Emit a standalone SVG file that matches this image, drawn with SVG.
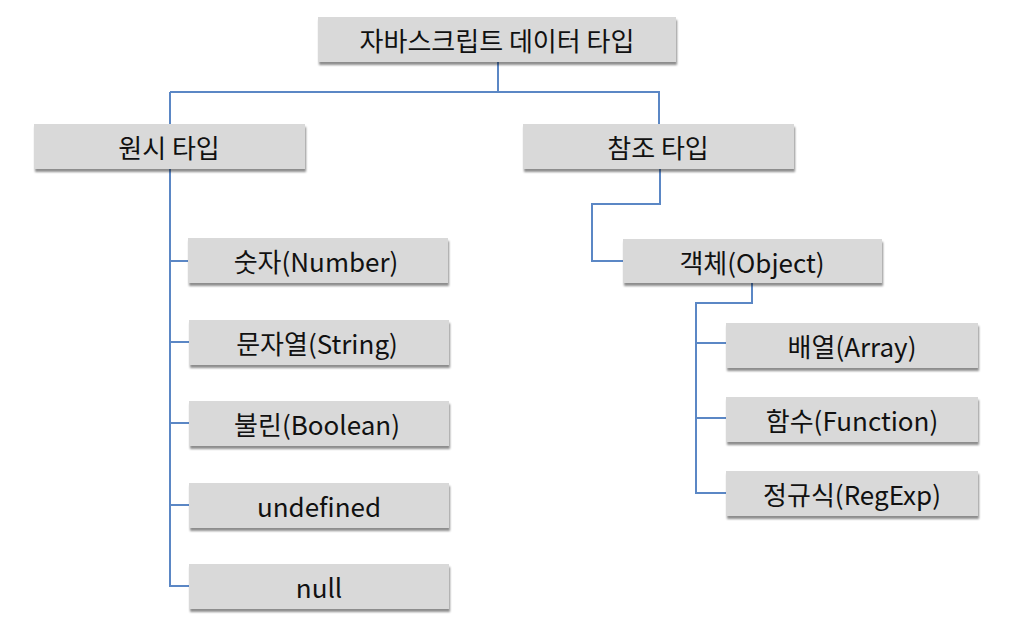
<svg xmlns="http://www.w3.org/2000/svg" width="1013" height="637" viewBox="0 0 1013 637">
<defs>
<filter id="sh" x="-5%" y="-20%" width="110%" height="150%">
<feGaussianBlur in="SourceAlpha" stdDeviation="1.2"/>
<feOffset dx="1" dy="2.5" result="o"/>
<feComponentTransfer><feFuncA type="linear" slope="0.45"/></feComponentTransfer>
<feMerge><feMergeNode/><feMergeNode in="SourceGraphic"/></feMerge>
</filter>
</defs>
<style>
.box{fill:#d9d9d9;filter:url(#sh)}
.t{font-family:"Noto Sans CJK KR","Noto Sans",sans-serif;font-size:26px;fill:#111;text-anchor:middle;dominant-baseline:central}
.c{fill:none;stroke:#5b87c5;stroke-width:2}
</style>
<rect width="1013" height="637" fill="#fff"/>
<g id="connectors">
<path class="c" d="M498 62V92M170 92H659V124"/>
<path class="c" d="M170 92V169M170 169V586H189M170 261H188M170 342H189M170 423H189M170 505H189"/>
<path class="c" d="M660 169V204H592V261H623"/>
<path class="c" d="M752 283V303H696V493H726M696 343H726M696 418H726"/>
</g>
<g id="n-root"><rect class="box" x="318" y="17" width="358" height="45"/><text class="t" x="497" y="39">자바스크립트 데이터 타입</text></g>
<g id="n-prim"><rect class="box" x="34" y="124" width="271" height="45"/><text class="t" x="169" y="146">원시 타입</text></g>
<g id="n-ref"><rect class="box" x="523" y="124" width="271" height="45"/><text class="t" x="658" y="146">참조 타입</text></g>
<g id="n-number"><rect class="box" x="188" y="238" width="260" height="45"/><text class="t" x="316" y="260">숫자(Number)</text></g>
<g id="n-string"><rect class="box" x="189" y="320" width="260" height="45"/><text class="t" x="317" y="342">문자열(String)</text></g>
<g id="n-boolean"><rect class="box" x="189" y="401" width="260" height="45"/><text class="t" x="317" y="423">불린(Boolean)</text></g>
<g id="n-undefined"><rect class="box" x="189" y="483" width="260" height="45"/><text class="t" x="319" y="505">undefined</text></g>
<g id="n-null"><rect class="box" x="189" y="564" width="260" height="45"/><text class="t" x="319" y="586">null</text></g>
<g id="n-object"><rect class="box" x="623" y="239" width="259" height="44"/><text class="t" x="752" y="261">객체(Object)</text></g>
<g id="n-array"><rect class="box" x="726" y="323" width="252" height="45"/><text class="t" x="852" y="345">배열(Array)</text></g>
<g id="n-function"><rect class="box" x="726" y="397" width="252" height="45"/><text class="t" x="852" y="419">함수(Function)</text></g>
<g id="n-regexp"><rect class="box" x="726" y="471" width="252" height="45"/><text class="t" x="852" y="493">정규식(RegExp)</text></g>
</svg>
